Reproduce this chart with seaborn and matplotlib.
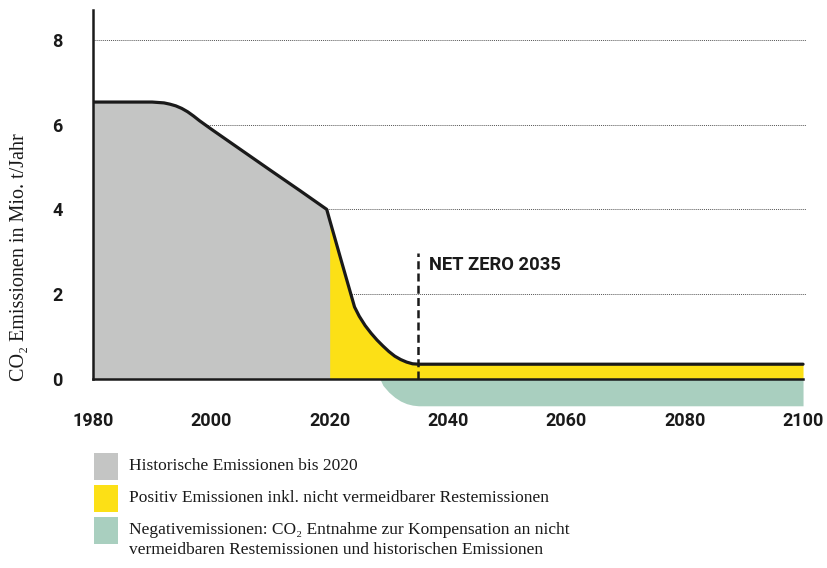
import numpy as np
import pandas as pd
import matplotlib
matplotlib.use("Agg")
import matplotlib.pyplot as plt
from matplotlib.patches import Rectangle
import seaborn as sns

# ---- data ----
years = [1980, 1985, 1990, 1992, 1993, 1994, 1995, 1996, 1997, 1998, 1999, 2000, 2005, 2010, 2015,
         2019.5, 2020, 2022, 2024.2, 2025, 2026, 2027, 2028, 2029, 2030, 2031, 2032, 2033,
         2034, 2035, 2100]
emissions = [6.53, 6.53, 6.53, 6.51, 6.48, 6.44, 6.38, 6.30, 6.20, 6.09, 5.99, 5.89, 5.405, 4.92, 4.44,
             4.00, 3.75, 2.77, 1.70, 1.48, 1.26, 1.08, 0.92, 0.78, 0.65, 0.54, 0.46, 0.40,
             0.36, 0.35, 0.35]
neg_years = [2028.5, 2029, 2030, 2031, 2032, 2033, 2034, 2035, 2100]
neg_values = [0.0, -0.15, -0.31, -0.43, -0.52, -0.58, -0.615, -0.63, -0.63]
history_end = 2020
net_zero_year = 2035
net_zero_top = 2.96
x_ticks = [1980, 2000, 2020, 2040, 2060, 2080, 2100]
y_ticks = [0, 2, 4, 6, 8]
legend_labels = [
    "Historische Emissionen bis 2020",
    "Positiv Emissionen inkl. nicht vermeidbarer Restemissionen",
    "Negativemissionen: CO\u2082 Entnahme zur Kompensation an nicht\nvermeidbaren Restemissionen und historischen Emissionen",
]
ylabel = "CO\u2082 Emissionen in Mio. t/Jahr"
annotation = "NET ZERO 2035"

GREY = "#c4c5c4"
YELLOW = "#fce016"
GREEN = "#a9cfbf"
BLACK = "#1a1a1a"

sns.set_style("white")
plt.rcParams["font.family"] = ["Roboto", "DejaVu Sans"]

df = pd.DataFrame({"year": years, "value": emissions})
yr = np.array(years)
em = np.array(emissions)

fig = plt.figure(figsize=(8.27, 5.68), dpi=100)
W, H = 827, 568
x0, x1 = 93, 806
ytop, ybot = 10, 408.75
ax = fig.add_axes([x0 / W, (H - ybot) / H, (x1 - x0) / W, (ybot - ytop) / H])
ax.set_xlim(1980, 2100.5)
ax.set_ylim(-0.7, 8.7)

# grid
for v in y_ticks[1:]:
    ax.axhline(v, color="#555555", lw=0.7, ls=(0, (1, 1)), zorder=1)

# yellow drawn first (slightly overlapping), grey on top -> no seam at 2020
ax.fill_between(yr, em, 0, where=yr >= 2019.5, color=YELLOW, lw=0, zorder=2)
ax.fill_between(yr, em, 0, where=yr <= history_end, color=GREY, lw=0, zorder=2.5)
ax.fill_between(neg_years, neg_values, 0, color=GREEN, lw=0, zorder=2)

sns.lineplot(data=df, x="year", y="value", ax=ax, color=BLACK, lw=2.3, zorder=4,
             sort=False, estimator=None)
ax.plot([net_zero_year, net_zero_year], [0, net_zero_top], color=BLACK, lw=1.8,
        ls=(0, (3.2, 1.7)), zorder=5)
ax.text(net_zero_year + 1.8, net_zero_top - 0.27, annotation, fontsize=13.2,
        fontweight="bold", color=BLACK, ha="left", va="center")

# spines
for s in ["top", "right"]:
    ax.spines[s].set_visible(False)
ax.spines["bottom"].set_position(("data", 0))
ax.spines["bottom"].set_bounds(1980, 2100)
ax.spines["left"].set_bounds(0, 8.7)
for s in ["bottom", "left"]:
    ax.spines[s].set_linewidth(1.8)
    ax.spines[s].set_color(BLACK)
    ax.spines[s].set_zorder(6)

ax.set_xticks(x_ticks)
ax.set_yticks(y_ticks)
ax.tick_params(axis="both", direction="out", length=8, width=1.8, color=BLACK,
               labelsize=13, labelcolor=BLACK)
ax.tick_params(axis="x", pad=16)
ax.tick_params(axis="y", pad=14)
for lab in ax.get_xticklabels() + ax.get_yticklabels():
    lab.set_fontweight("bold")
ax.set_xlabel("")
ax.set_ylabel("")
fig.text(20 / W, 1 - 257.5 / H, ylabel, rotation=90, ha="center", va="center",
         fontsize=14.5, family=["Liberation Serif", "DejaVu Serif"], color=BLACK)

# legend (manual)
colors = [GREY, YELLOW, GREEN]
box_tops = [453, 485, 517]
for c, top, lab in zip(colors, box_tops, legend_labels):
    fig.patches.append(Rectangle((94 / W, 1 - (top + 27) / H), 23.5 / W, 27 / H,
                                 transform=fig.transFigure, facecolor=c, edgecolor="none"))
    if "\n" in lab:
        fig.text(129 / W, 1 - (top + 5) / H, lab, ha="left", va="top",
                 fontsize=12.5, family=["Liberation Serif", "DejaVu Serif"], color=BLACK,
                 linespacing=1.3)
    else:
        fig.text(129 / W, 1 - (top + 13.5) / H, lab, ha="left", va="center",
                 fontsize=12.5, family=["Liberation Serif", "DejaVu Serif"], color=BLACK)

fig.savefig("out.png", dpi=100)
